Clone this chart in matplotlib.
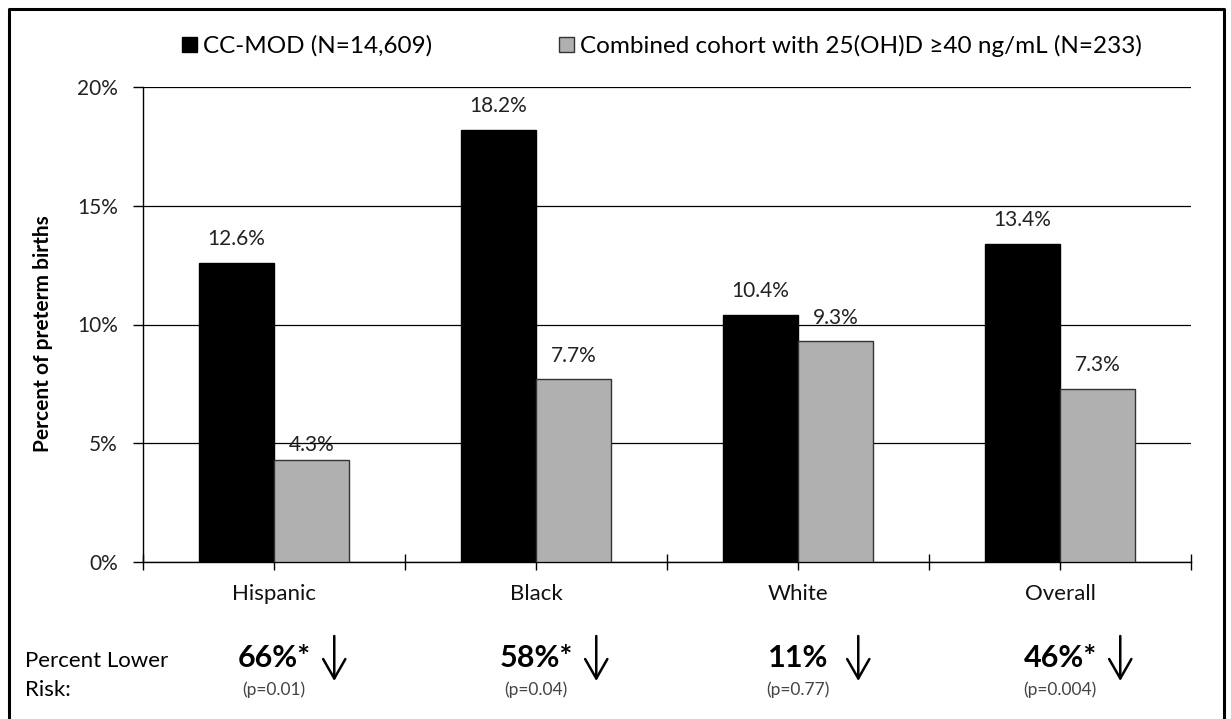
import matplotlib
matplotlib.use('Agg')
import matplotlib.pyplot as plt
import matplotlib.transforms as mtransforms
from matplotlib.lines import Line2D
from matplotlib.patches import Patch
import numpy as np

# ---- data ----
categories = ['Hispanic', 'Black', 'White', 'Overall']
series_names = ['CC-MOD (N=14,609)',
                'Combined cohort with 25(OH)D \u226540 ng/mL (N=233)']
ccmod_values = [12.6, 18.2, 10.4, 13.4]
cohort_values = [4.3, 7.7, 9.3, 7.3]
risk_lower = ['66%*', '58%*', '11%', '46%*']
p_values = ['(p=0.01)', '(p=0.04)', '(p=0.77)', '(p=0.004)']
y_ticks = [0, 5, 10, 15, 20]
y_tick_labels = ['0%', '5%', '10%', '15%', '20%']

plt.rcParams['font.family'] = ['Lato', 'DejaVu Sans']

W, H = 1231, 719
fig = plt.figure(figsize=(W / 100, H / 100), dpi=100)
fig.patch.set_facecolor('white')

def fx(px):
    return px / W

def fy(py):
    return 1 - py / H

ax = fig.add_axes([fx(143), fy(562), fx(1191) - fx(143), fy(87) - fy(562)])

x = np.arange(len(categories))
bw = 0.287
bars1 = ax.bar(x - bw / 2, ccmod_values, bw, color='black', edgecolor='black',
               linewidth=1, zorder=3)
bars2 = ax.bar(x + bw / 2, cohort_values, bw, color='#b0b0b0',
               edgecolor='#333333', linewidth=1, zorder=3)

# value labels
label_offset_pt = 17
label_nudge = {(1, 0): -6}   # small manual nudge as in the original
for s, (bars, vals) in enumerate([(bars1, ccmod_values), (bars2, cohort_values)]):
    for i, (b, v) in enumerate(zip(bars, vals)):
        off = label_offset_pt + label_nudge.get((s, i), 0)
        ax.annotate(f'{v:.1f}%', (b.get_x() + b.get_width() / 2, v),
                    xytext=(0, off), textcoords='offset points',
                    ha='center', va='center', fontsize=15, color='#222222',
                    zorder=4)

ax.set_xlim(-0.5, len(categories) - 0.5)
ax.set_ylim(0, 20)
ax.set_yticks(y_ticks)
ax.set_yticklabels(y_tick_labels, fontsize=15, color='#222222')
ax.yaxis.grid(True, color='black', linewidth=0.9)
ax.set_axisbelow(True)

ax.set_xticks(x)
ax.set_xticklabels(categories, fontsize=16, color='#111111')
ax.set_xticks(np.arange(-0.5, len(categories), 1.0), minor=True)
ax.tick_params(axis='x', which='both', direction='inout', length=12,
               width=1, color='black')
ax.tick_params(axis='x', which='major', pad=10)
ax.tick_params(axis='y', direction='out', length=7, width=1, pad=11,
               color='black')

for sp in ['top', 'right']:
    ax.spines[sp].set_visible(False)
for sp in ['left', 'bottom']:
    ax.spines[sp].set_color('black')
    ax.spines[sp].set_linewidth(1)

fig.text(fx(43), fy(334), 'Percent of preterm births', rotation=90,
         ha='center', va='center', fontsize=15, fontweight='bold')

# legend
handles = [Patch(facecolor='black', edgecolor='black', label=series_names[0]),
           Patch(facecolor='#b0b0b0', edgecolor='#333333', label=series_names[1])]
fig.legend(handles=handles, loc='center', bbox_to_anchor=(fx(662), fy(46)),
           ncol=2, frameon=False, fontsize=17.5, handlelength=0.62,
           handleheight=0.62, handletextpad=0.25, columnspacing=5.2)

# bottom annotations
trans = mtransforms.blended_transform_factory(ax.transData, fig.transFigure)
fig.text(fx(25), fy(661), 'Percent Lower', ha='left', va='center', fontsize=16)
fig.text(fx(25), fy(690), 'Risk:', ha='left', va='center', fontsize=16)
for i in range(len(categories)):
    ax.text(x[i], fy(658), risk_lower[i], transform=trans, ha='center',
            va='center', fontsize=22, fontweight='bold', clip_on=False)
    ax.text(x[i], fy(690), p_values[i], transform=trans, ha='center',
            va='center', fontsize=12.5, color='#444444', clip_on=False)
    ax.annotate('', xy=(x[i] + 0.23, fy(681)), xytext=(x[i] + 0.23, fy(636)),
                xycoords=trans, textcoords=trans,
                arrowprops=dict(arrowstyle='->,head_length=0.7,head_width=0.4',
                                lw=1.8, color='black', mutation_scale=20,
                                shrinkA=0, shrinkB=0),
                annotation_clip=False)

# outer frame
fig.add_artist(Line2D([fx(9), fx(9), fx(1224), fx(1224)],
                      [0, fy(9), fy(9), 0], transform=fig.transFigure,
                      color='black', linewidth=2.2))

fig.savefig('out.png', dpi=100)
